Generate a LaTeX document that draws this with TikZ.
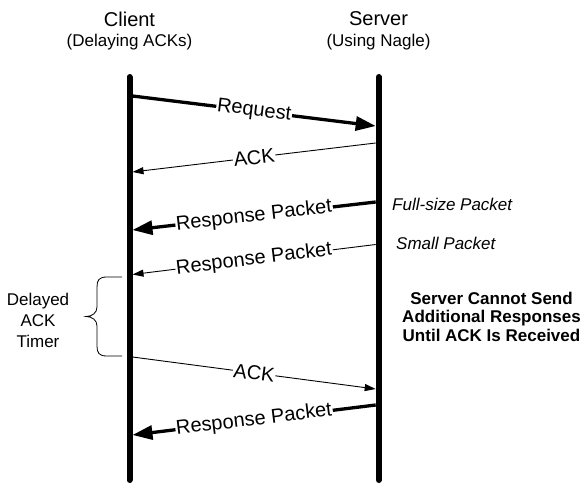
\documentclass[tikz,border=0pt]{standalone}
\usepackage{fontspec}
\setmainfont{Liberation Sans}
\usetikzlibrary{arrows.meta}
\begin{document}
\begin{tikzpicture}[x=1pt,y=-1pt,
  lifeline/.style={line width=6pt, line cap=round},
  bigmsg/.style={line width=3.3pt, -{Triangle[length=20pt,width=14pt]}},
  smallmsg/.style={line width=0.9pt, -{Triangle[length=11pt,width=7pt]}},
  msglabel/.style={sloped, fill=white, inner sep=0.8pt, font=\fontsize{20}{24}\selectfont},
  head/.style={font=\fontsize{20}{24}\selectfont, inner sep=0pt},
  subhead/.style={font=\fontsize{17}{20}\selectfont, inner sep=0pt},
  note/.style={font=\fontsize{17}{20}\selectfont\itshape, inner sep=0pt, anchor=west},
  boldnote/.style={font=\fontsize{17}{18.5}\selectfont\bfseries, inner sep=0pt, align=center},
  sidenote/.style={font=\fontsize{17}{21}\selectfont, inner sep=0pt, align=center},
  bracepath/.style={line width=0.8pt}
]
\useasboundingbox (0,0) rectangle (583,484);

% headers
\node[head] (client) at (129.5,19) {Client};
\node[subhead] (clientsub) at (129.5,42) {(Delaying ACKs)};
\node[head] (server) at (378.5,19) {Server};
\node[subhead] (serversub) at (378.5,42) {(Using Nagle)};

% lifelines
\coordinate (ctop) at (129.5,77);
\coordinate (cbot) at (129.5,480);
\coordinate (stop) at (378.7,77);
\coordinate (sbot) at (378.7,480);
\draw[lifeline] (ctop) -- (cbot);
\draw[lifeline] (stop) -- (sbot);

% message end points
\coordinate (m1a) at (132.5,96);   \coordinate (m1b) at (375.7,126);
\coordinate (m2a) at (375.7,143);  \coordinate (m2b) at (132.5,172);
\coordinate (m3a) at (375.7,202);  \coordinate (m3b) at (132.5,230);
\coordinate (m4a) at (375.7,244.5);\coordinate (m4b) at (132.5,274.5);
\coordinate (m5a) at (132.5,357);  \coordinate (m5b) at (375.7,389);
\coordinate (m6a) at (375.7,405);  \coordinate (m6b) at (132.5,435);

\draw[bigmsg] (m1a) -- node[msglabel] (l1) {Request} (m1b);
\draw[smallmsg] (m2a) -- node[msglabel] (l2) {ACK} (m2b);
\draw[bigmsg] (m3a) -- node[msglabel] (l3) {Response Packet} (m3b);
\draw[smallmsg] (m4a) -- node[msglabel] (l4) {Response Packet} (m4b);
\draw[smallmsg] (m5a) -- node[msglabel] (l5) {ACK} (m5b);
\draw[bigmsg] (m6a) -- node[msglabel] (l6) {Response Packet} (m6b);

% right notes
\node[note] (full) at (392,204) {Full-size Packet};
\node[note] (small) at (396,243) {Small Packet};
\node[boldnote] (cannot) at (491.5,316.5) {Server Cannot Send\\Additional Responses\\Until ACK Is Received};

% brace and timer label
\draw[bracepath] (122,277) -- (107,277)
  .. controls (99,277) and (97,280) .. (97,287)
  -- (97,307)
  .. controls (97,313) and (92,316.5) .. (86,316.5)
  .. controls (92,316.5) and (97,320) .. (97,326)
  -- (97,346)
  .. controls (97,353) and (99,356) .. (107,356)
  -- (122,356);
\node[sidenote] (timer) at (38,320) {Delayed\\ACK\\Timer};
\end{tikzpicture}
\end{document}
